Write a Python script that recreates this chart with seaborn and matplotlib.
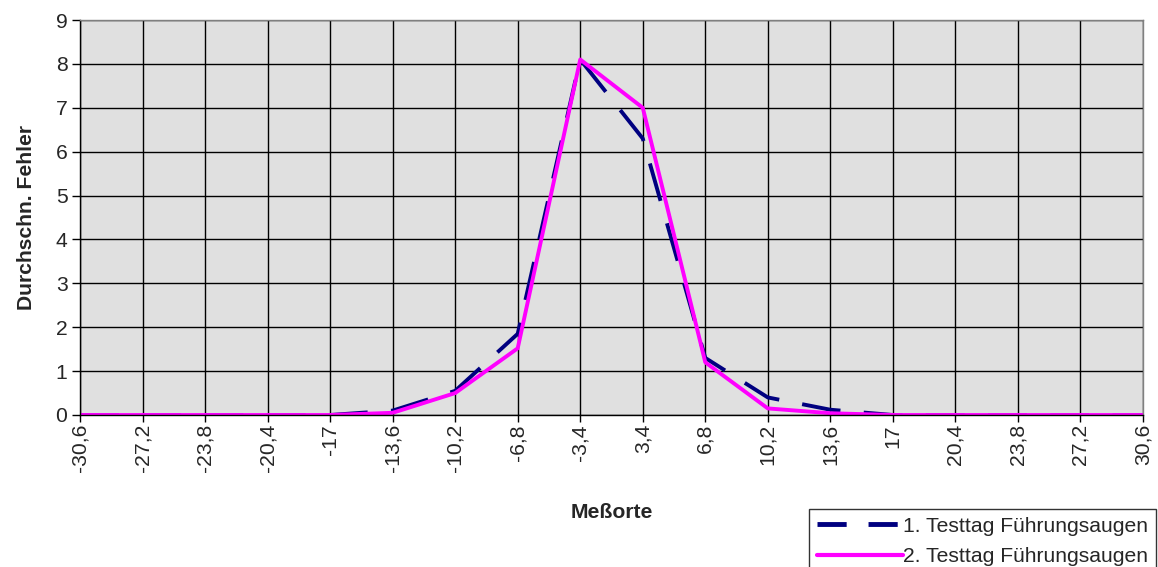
import matplotlib
matplotlib.use("Agg")
import matplotlib.pyplot as plt
import seaborn as sns
import pandas as pd

categories = ["-30,6", "-27,2", "-23,8", "-20,4", "-17", "-13,6", "-10,2", "-6,8", "-3,4",
              "3,4", "6,8", "10,2", "13,6", "17", "20,4", "23,8", "27,2", "30,6"]
series1 = [0, 0, 0, 0, 0, 0.1, 0.55, 1.85, 8.1, 6.3, 1.3, 0.4, 0.12, 0, 0, 0, 0, 0]
series2 = [0, 0, 0, 0, 0, 0.05, 0.5, 1.52, 8.1, 7.0, 1.2, 0.15, 0.04, 0, 0, 0, 0, 0]
name1 = "1. Testtag Führungsaugen"
name2 = "2. Testtag Führungsaugen"
y_ticks = [0, 1, 2, 3, 4, 5, 6, 7, 8, 9]

sns.set_theme(style="white")
plt.rcParams['font.family'] = ['Liberation Sans', 'DejaVu Sans']

df = pd.DataFrame({
    "Meßorte": categories * 2,
    "Wert": series1 + series2,
    "Serie": [name1] * len(categories) + [name2] * len(categories),
})

FS = 15.2

fig = plt.figure(figsize=(11.58, 5.67), dpi=100)
ax = fig.add_axes([80/1158, 1 - 415/567, (1143-80)/1158, (415-20)/567])
ax.set_facecolor("#E0E0E0")

sns.lineplot(data=df, x="Meßorte", y="Wert", hue="Serie", style="Serie",
             palette={name1: "#000080", name2: "#FF00FF"},
             dashes={name1: (10, 6), name2: ""},
             linewidth=2.8, sort=False, ax=ax, legend=False)

ax.set_xlim(0, len(categories) - 1)
ax.set_ylim(0, 9)
ax.set_yticks(y_ticks)
ax.set_xticks(range(len(categories)))
ax.set_xticklabels(categories, rotation=90, fontsize=FS)
ax.tick_params(axis="y", labelsize=FS, length=6, width=1, color="black", direction="out", left=True, pad=3)
ax.tick_params(axis="x", length=5, width=1, color="black", direction="out", bottom=True, pad=1.5)
ax.grid(True, color="black", linewidth=1)
ax.set_axisbelow(True)

for s in ["top", "right"]:
    ax.spines[s].set_color("#808080")
    ax.spines[s].set_linewidth(1)
for s in ["left", "bottom"]:
    ax.spines[s].set_color("black")
    ax.spines[s].set_linewidth(1)

ax.set_xlabel("Meßorte", fontsize=FS, fontweight="bold", labelpad=22)
ax.set_ylabel("Durchschn. Fehler", fontsize=FS, fontweight="bold", labelpad=14)

from matplotlib.lines import Line2D
handles = [Line2D([], [], color="#000080", lw=3.5, dashes=(6, 4.5)),
           Line2D([], [], color="#FF00FF", lw=3)]
leg = fig.legend(handles, [name1, name2], loc="lower right", bbox_to_anchor=(0.998, -0.012),
                 fontsize=FS, frameon=True, fancybox=False, edgecolor="black",
                 handlelength=4.1, handletextpad=0.0, borderpad=0.35, labelspacing=0.55,
                 borderaxespad=0.0)
leg.get_frame().set_linewidth(1)

fig.savefig("out.png", dpi=100)
